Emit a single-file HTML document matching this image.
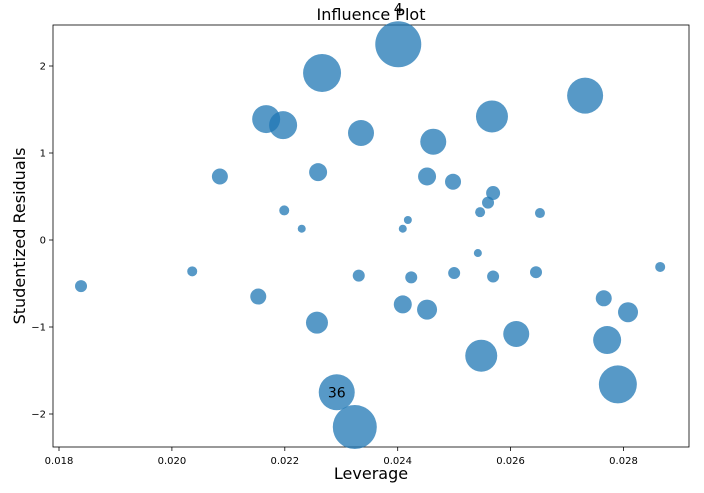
<!DOCTYPE html>
<html><head><meta charset="utf-8"><style>
body{margin:0;background:#fff;font-family:"Liberation Sans","DejaVu Sans",sans-serif}
svg text{font-family:"DejaVu Sans","Liberation Sans",sans-serif}
</style></head><body>
<svg id="chart" width="704" height="488" xmlns="http://www.w3.org/2000/svg">
<rect x="53" y="25" width="636" height="422" fill="#fff" stroke="#000" stroke-width="0.8"/>
<text x="371" y="20" text-anchor="middle" font-size="16">Influence Plot</text>
<text x="371" y="479" text-anchor="middle" font-size="16">Leverage</text>
<text transform="translate(25,236) rotate(-90)" text-anchor="middle" font-size="16">Studentized Residuals</text>
<g id="ticks"></g><g id="marks"></g><g id="labels"></g>
</svg>
<script>
const leverage=[0.01839,0.02036,0.02085,0.02153,0.02167,0.02197,0.02199,0.0223,0.02266,0.02259,0.02257,0.02292,0.02324,0.02335,0.02331,0.02401,0.02409,0.02409,0.02418,0.02424,0.02463,0.02452,0.02452,0.02498,0.025,0.02542,0.02548,0.02569,0.02546,0.0256,0.02569,0.02567,0.0261,0.02652,0.02645,0.02732,0.02765,0.02771,0.0279,0.02808,0.02865];
const residuals=[-0.53,-0.36,0.73,-0.65,1.39,1.32,0.34,0.13,1.92,0.78,-0.95,-1.75,-2.15,1.23,-0.41,2.25,-0.74,0.13,0.23,-0.43,1.13,0.73,-0.80,0.67,-0.38,-0.15,-1.33,-0.42,0.32,0.43,0.54,1.42,-1.08,0.31,-0.37,1.66,-0.67,-1.15,-1.66,-0.83,-0.31];
const sizes=[6,5,8,8,14,14,5,4,19,9,11,18,22,13,6,23,9,4,4,6,13,9,10,8,6,4,16,6,5,6,7,16,13,5,6,18,8,14,19,10,5];
const pointLabels=[{i:15,text:"4"},{i:11,text:"36"}];
const xTicks=[0.018,0.020,0.022,0.024,0.026,0.028];
const yTicks=[-2,-1,0,1,2];
const NS="http://www.w3.org/2000/svg";
const xs=v=>59+(v-0.018)*56450;
const ys=v=>240-v*87;
function mk(tag,attrs,parent){const e=document.createElementNS(NS,tag);for(const k in attrs)e.setAttribute(k,attrs[k]);parent.appendChild(e);return e;}
const tg=document.getElementById('ticks');
xTicks.forEach(t=>{const x=xs(t);
 const l=mk('line',{x1:x,x2:x,y1:447,y2:451,stroke:'#000','stroke-width':0.8},tg);
 
 
 const tx=mk('text',{x:x,y:464,'text-anchor':'middle','font-size':10},tg);tx.textContent=t.toFixed(3);
 
 });
yTicks.forEach(t=>{const y=ys(t);
 const l=mk('line',{x1:49,x2:53,y1:y,y2:y,stroke:'#000','stroke-width':0.8},tg);
 
 
 const tx=mk('text',{x:46,y:y+3.5,'text-anchor':'end','font-size':10},tg);tx.textContent=(t<0?'\u2212'+(-t):t);
 
 });
const mg=document.getElementById('marks');
leverage.forEach((v,i)=>{const c=mk('circle',{cx:xs(v),cy:ys(residuals[i]),r:sizes[i],fill:'#1f77b4','fill-opacity':0.75},mg);
 
 });
const lg=document.getElementById('labels');
pointLabels.forEach(p=>{const t=mk('text',{x:xs(leverage[p.i]),y:ys(residuals[p.i])+5,'text-anchor':'middle','font-size':14},lg);
 if(p.text==="4"){t.setAttribute('y',ys(residuals[p.i])-31);}
 t.textContent=p.text;
 
 });
</script>
</body></html>
